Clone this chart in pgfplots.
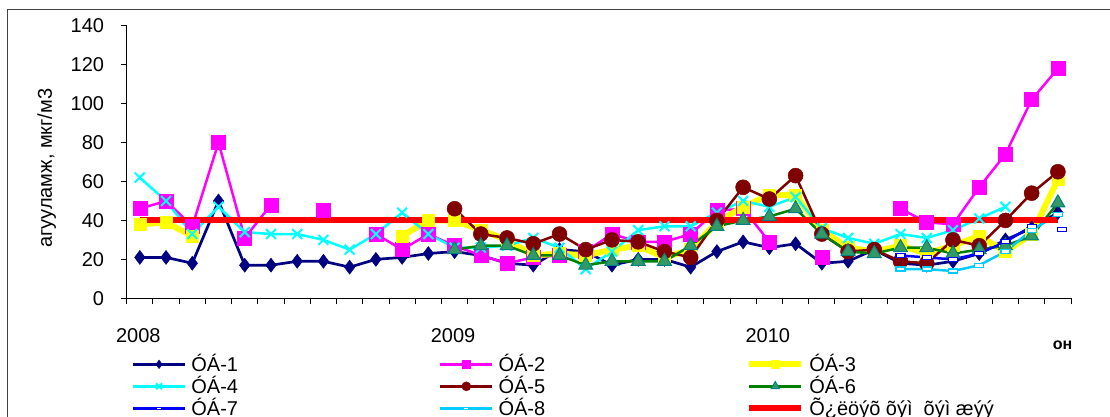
\documentclass[border=0pt]{standalone}
\usepackage{fontspec}
\setmainfont{Liberation Sans}
\usepackage{pgfplots}
\usepackage{pgfplotstable}
\pgfplotsset{compat=1.18}
\newcommand\cf{\fontsize{20pt}{24pt}\selectfont}
\definecolor{cA}{HTML}{000080}
\definecolor{cB}{HTML}{FF00FF}
\definecolor{cC}{HTML}{FFFF00}
\definecolor{cD}{HTML}{00FFFF}
\definecolor{cE}{HTML}{800000}
\definecolor{cF}{HTML}{008000}
\definecolor{cFm}{HTML}{339966}
\definecolor{cFe}{HTML}{008080}
\definecolor{cG}{HTML}{0000FF}
\definecolor{cH}{HTML}{00CCFF}
\definecolor{cR}{HTML}{FF0000}
\definecolor{frame}{HTML}{404040}
\pgfdeclareplotmark{dashbox}{\pgfpathrectangle{\pgfpoint{-4.5pt}{-2pt}}{\pgfpoint{9pt}{4pt}}\pgfusepathqfillstroke}

\pgfplotstableread{
x    s1  s2   s3  s4  s5  s6  s7  s8  s9
0.5  21  46   38  62  nan nan nan nan 40
1.5  21  50   39  50  nan nan nan nan 40
2.5  18  37   32  33  nan nan nan nan 40
3.5  50  80   nan 47  nan nan nan nan 40
4.5  17  31   nan 34  nan nan nan nan 40
5.5  17  48   nan 33  nan nan nan nan 40
6.5  19  nan  nan 33  nan nan nan nan 40
7.5  19  45   nan 30  nan nan nan nan 40
8.5  16  nan  nan 25  nan nan nan nan 40
9.5  20  33   nan 33  nan nan nan nan 40
10.5 21  25   32  44  nan nan nan nan 40
11.5 23  33   40  33  nan nan nan nan 40
12.5 24  27   40  26  46  25  nan nan 40
13.5 22  22   35  26  33  27  nan nan 40
14.5 18  18   30  27  31  27  nan nan 40
15.5 17  21   22  31  28  22  nan nan 40
16.5 25  22   23  26  33  22  nan nan 40
17.5 24  24   22  15  25  17  nan nan 40
18.5 17  33   25  24  30  19  nan nan 40
19.5 20  29   27  35  29  19  nan nan 40
20.5 20  29   21  37  24  19  nan nan 40
21.5 16  33   25  37  21  27  nan nan 40
22.5 24  45   39  44  40  37  nan nan 40
23.5 29  46   47  50  57  40  nan nan 40
24.5 26  29   53  47  51  42  nan nan 40
25.5 28  nan  53  52  63  46  nan nan 40
26.5 18  21   35  36  33  33  nan nan 40
27.5 19  nan  26  31  24  24  nan nan 40
28.5 25  nan  24  28  25  23  nan nan 40
29.5 18  46   27  33  19  26  22  15  40
30.5 17  39   23  31  18  26  21  15  40
31.5 19  38   27  35  30  23  20  14  40
32.5 23  57   32  41  27  25  23  17  40
33.5 30  74   24  47  40  27  29  24  40
34.5 36  102  33  nan 54  32  37  35  40
35.5 44  118  61  nan 65  49  nan 43  40
}\datatable

\pgfplotstableread{
x     y
35.65 35.4
}\extrapoint

\begin{document}
\begin{tikzpicture}[x=1pt,y=1pt]
\draw[line width=1.5pt, frame] (7.5pt,406.5pt) rectangle (1125pt,-20pt);
\begin{axis}[
  at={(126.7pt,117.7pt)}, anchor=south west,
  scale only axis, width=944.3pt, height=272.6pt,
  xmin=0, xmax=36, ymin=0, ymax=140,
  axis x line=bottom, axis y line=left,
  axis line style={-, line width=1pt, black},
  every outer x axis line/.append style={-},
  every outer y axis line/.append style={-},
  every inner x axis line/.append style={-},
  every inner y axis line/.append style={-},
  tick align=outside, major tick length=6pt,
  tick style={black, line width=1pt},
  ytick={0,20,...,140},
  xtick={0,...,36},
  xticklabels={2008,,,,,,,,,,,,2009,,,,,,,,,,,,2010},
  /pgf/number format/assume math mode=true,
  tick label style={font=\cf, inner sep=0pt},
  yticklabel style={anchor=east},
  xticklabel style={anchor=north, xshift=11.6pt},
  yticklabel shift=16.4pt,
  xticklabel shift=24.4pt,
  xlabel={он},
  every axis x label/.style={at={(axis description cs:0.991,-0.171)}, anchor=center, font=\fontsize{16pt}{19pt}\selectfont\bfseries},
  ylabel={агууламж, мкг/м3},
  every axis y label/.style={at={(axis description cs:-0.0847,0.477)}, rotate=90, anchor=center, font=\cf},
  unbounded coords=jump,
  clip=false,
  legend columns=3,
  legend cell align=left,
  legend style={at={(axis description cs:0.0053,-0.2018)}, anchor=north west, draw=none, fill=none,
    inner sep=0pt, outer sep=0pt, font=\cf, row sep=0pt,
    nodes={inner sep=0pt, text height=18pt, text depth=4pt},
    /tikz/every odd column/.append style={column sep=5pt},
    /tikz/every even column/.append style={column sep=201pt}},
  legend image code/.code={\draw[mark repeat=2, mark phase=2] plot coordinates {(0pt,0pt) (26pt,0pt) (52pt,0pt)};},
  legend image post style={every mark/.append style={scale=0.6}},
]
\addplot[color=cA, line width=2.7pt, mark=diamond*, mark size=7pt, mark options={solid, fill=cA, line width=0.5pt}] table[x=x,y=s1]{\datatable};
\addlegendentry{ÓÁ-1}
\addplot[color=cB, line width=2.5pt, mark=square*, mark size=7pt, mark options={solid, fill=cB, line width=0.5pt}] table[x=x,y=s2]{\datatable};
\addlegendentry{ÓÁ-2}
\addplot[color=cC, line width=6pt, mark=square*, mark size=6pt, mark options={solid, fill=cC, line width=0.5pt}] table[x=x,y=s3]{\datatable};
\addlegendentry{ÓÁ-3}
\addplot[color=cD, line width=2.5pt, mark=x, mark size=7pt, mark options={solid, line width=2pt}] table[x=x,y=s4]{\datatable};
\addlegendentry{ÓÁ-4}
\addplot[color=cE, line width=2.5pt, mark=*, mark size=7.5pt, mark options={solid, fill=cE, line width=0.5pt}] table[x=x,y=s5]{\datatable};
\addlegendentry{ÓÁ-5}
\addplot[color=cF, line width=2.5pt, mark=triangle*, mark size=8pt, mark options={solid, fill=cFm, draw=cFe, line width=1pt}] table[x=x,y=s6]{\datatable};
\addlegendentry{ÓÁ-6}
\addplot[color=cG, line width=2.5pt, mark=dashbox, mark options={solid, fill=white, draw=cG, line width=1.2pt}] table[x=x,y=s7]{\datatable};
\addlegendentry{ÓÁ-7}
\addplot[color=cH, line width=2.5pt, mark=dashbox, mark options={solid, fill=white, draw=cH, line width=1.2pt}] table[x=x,y=s8]{\datatable};
\addlegendentry{ÓÁ-8}
\addplot[forget plot, only marks, mark=dashbox, mark options={solid, fill=white, draw=cG, line width=1.2pt}] table[x=x,y=y]{\extrapoint};
\addplot[color=cR, line width=6pt, no marks] table[x=x,y=s9]{\datatable};
\addlegendentry{Õ¿ëöýõ õýì\ \ õýì æýý}
\end{axis}
\pgfresetboundingbox
\path[use as bounding box] (0,0) rectangle (1110pt,416pt);
\end{tikzpicture}
\end{document}
